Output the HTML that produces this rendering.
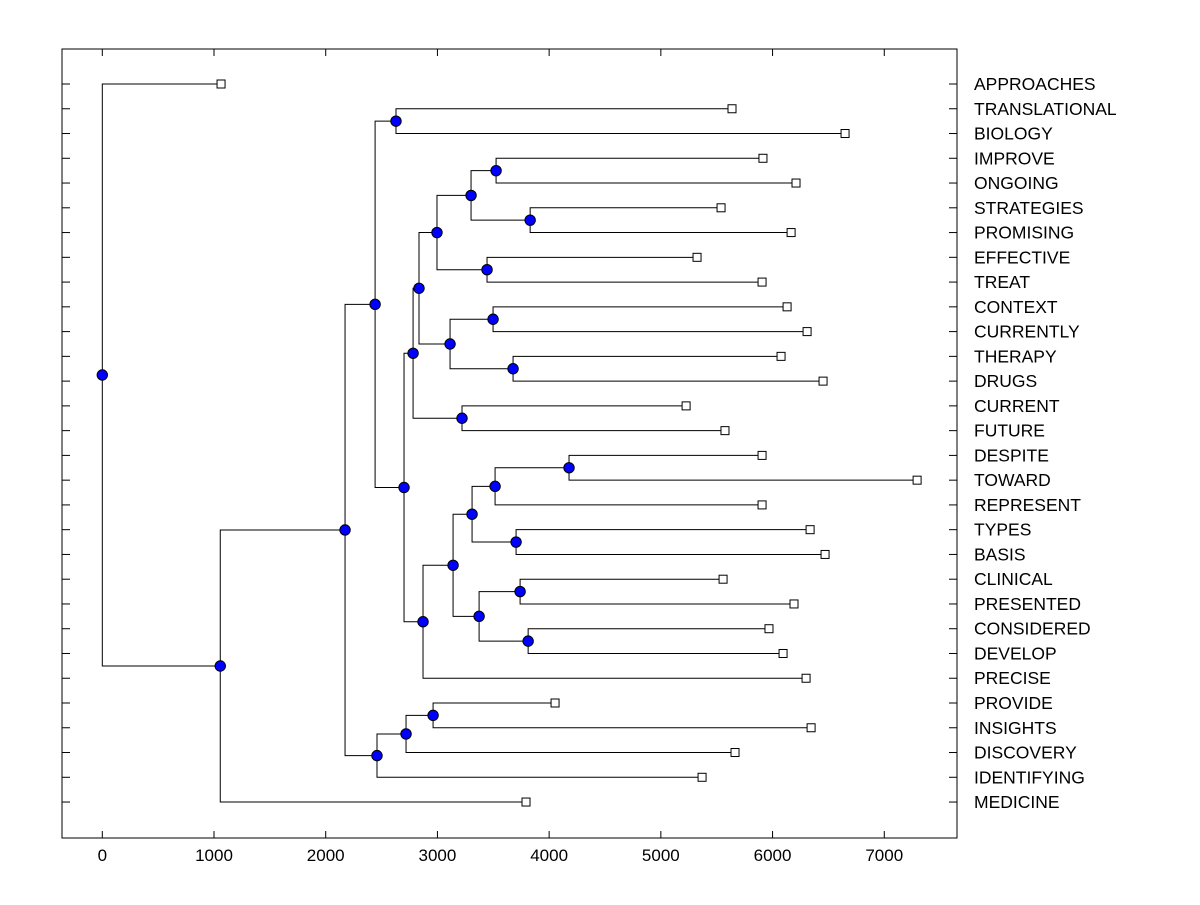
<!DOCTYPE html>
<html><head><meta charset="utf-8"><style>
body{margin:0;background:#fff}
svg text{font-family:"Liberation Sans",Arial,sans-serif;font-size:17.5px;fill:#000}
svg text.tk{font-size:17px}
</style></head><body>
<svg id="c" width="1200" height="900"></svg>
<script>
const leaves=["APPROACHES","TRANSLATIONAL","BIOLOGY","IMPROVE","ONGOING","STRATEGIES","PROMISING","EFFECTIVE","TREAT","CONTEXT","CURRENTLY","THERAPY","DRUGS","CURRENT","FUTURE","DESPITE","TOWARD","REPRESENT","TYPES","BASIS","CLINICAL","PRESENTED","CONSIDERED","DEVELOP","PRECISE","PROVIDE","INSIGHTS","DISCOVERY","IDENTIFYING","MEDICINE"];
const leafValues=[1063,5637,6649,5914,6210,5539,6166,5324,5906,6130,6309,6076,6452,5226,5574,5906,7294,5906,6336,6470,5557,6192,5968,6094,6300,4053,6345,5664,5369,3793];
const xTicks=[0,1000,2000,3000,4000,5000,6000,7000];
// merges: [childA, childB, height]; number = leaf index, "nK" = node K
const merges={
 n14:[3,4,3525], n15:[5,6,3830], n12:["n14","n15",3301], n13:[7,8,3444], n10:["n12","n13",2996],
 n16:[9,10,3498], n17:[11,12,3677], n11:["n16","n17",3113], n8:["n10","n11",2835], n9:[13,14,3220],
 n6:["n8","n9",2782], n23:[15,16,4178], n21:["n23",17,3516], n22:[18,19,3704], n19:["n21","n22",3310],
 n24:[20,21,3740], n25:[22,23,3812], n20:["n24","n25",3373], n18:["n19","n20",3140], n7:["n18",24,2871],
 n5:["n6","n7",2701], tb:[1,2,2629], n3:["tb","n5",2442], n27:[25,26,2961], n26:["n27",27,2719],
 nins:["n26",28,2459], n2:["n3","nins",2173], n1:["n2",29,1056], root:[0,"n1",0]
};
const X0=102.3,K=0.11171,Y0=84,DY=24.76,L=62,R=957,T=49,B=838;
const xs=v=>X0+v*K, ys=i=>Y0+i*DY;
const svg=document.getElementById('c'),NS="http://www.w3.org/2000/svg";
function mk(t,a,p){const e=document.createElementNS(NS,t);for(const k in a)e.setAttribute(k,a[k]);(p||svg).appendChild(e);return e;}
const frame=mk('rect',{x:L,y:T,width:R-L,height:B-T,fill:'none',stroke:'#000','stroke-width':1});


xTicks.forEach(v=>{
 const x=xs(v);
 const t1=mk('line',{x1:x,x2:x,y1:T,y2:T+7,stroke:'#000'});
 
 
 const t2=mk('line',{x1:x,x2:x,y1:B,y2:B-7,stroke:'#000'});
 
 
 const tx=mk('text',{x:x,y:861,'text-anchor':'middle','class':'tk'});tx.textContent=v;
 
 
});
leaves.forEach((n,i)=>{
 const y=ys(i);
 const a=mk('line',{x1:L,x2:L+8,y1:y,y2:y,stroke:'#000'});
 
 
 const b=mk('line',{x1:R,x2:R-8,y1:y,y2:y,stroke:'#000'});
 
 
 const t=mk('text',{x:974,y:y+6});t.textContent=n;
 
 
});
const pos={};
function P(r){
 if(typeof r==='number') return {x:xs(leafValues[r]),y:ys(r)};
 if(pos[r]) return pos[r];
 const m=merges[r],a=P(m[0]),b=P(m[1]);
 return pos[r]={x:xs(m[2]),y:(a.y+b.y)/2};
}
const lines=mk('g',{}),marks=mk('g',{});


for(const k in merges){
 const m=merges[k],p=P(k),a=P(m[0]),b=P(m[1]);
 const pl=mk('polyline',{points:`${a.x},${a.y} ${p.x},${a.y} ${p.x},${b.y} ${b.x},${b.y}`,fill:'none',stroke:'#000','stroke-width':1},lines);
 
 
}
leaves.forEach((n,i)=>{
 const p=P(i);
 const s=mk('rect',{x:p.x-4,y:p.y-4,width:8,height:8,fill:'#fff',stroke:'#000'},marks);
 
 
});
for(const k in merges){
 const p=P(k);
 const c=mk('circle',{cx:p.x,cy:p.y,r:5.2,fill:'#0000ff',stroke:'#000','stroke-width':1},marks);
 
 
}
</script>
</body></html>
